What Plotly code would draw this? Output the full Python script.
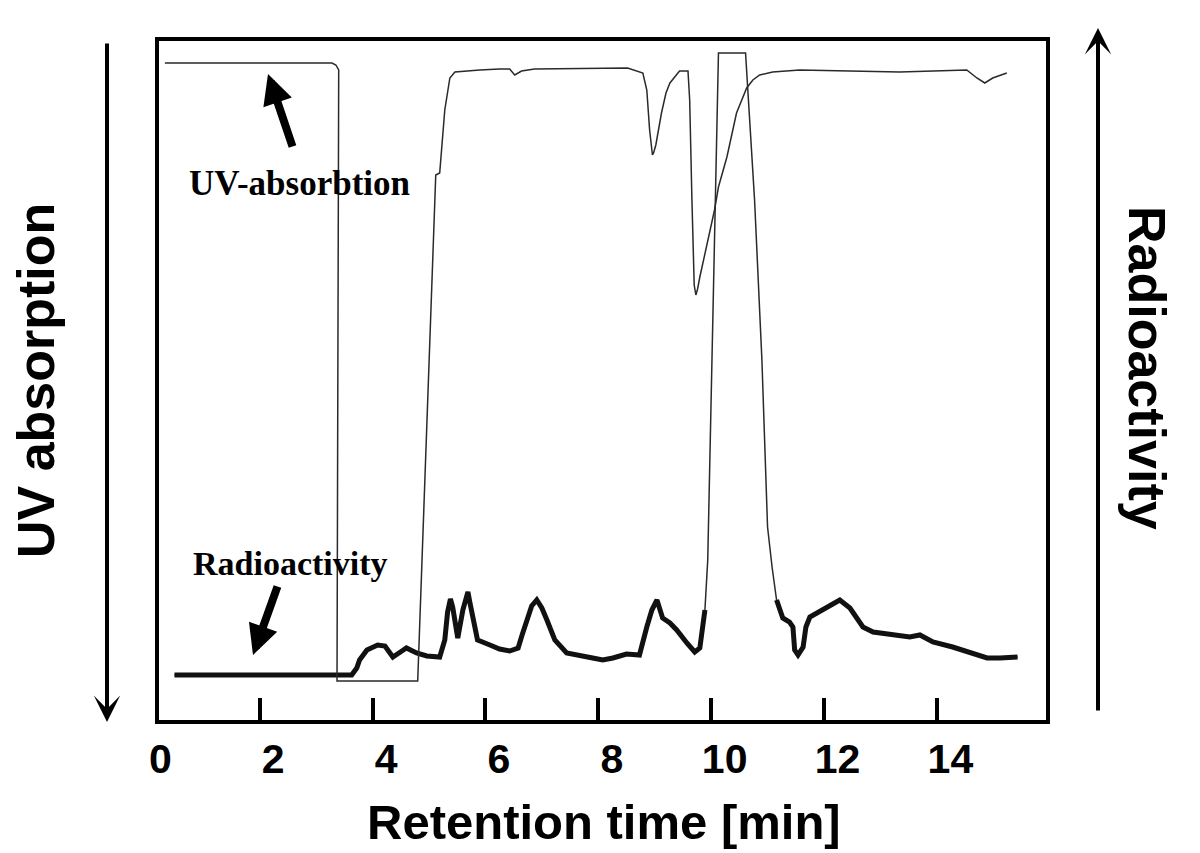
import plotly.graph_objects as go

# ---------------- data ----------------
# UV absorption trace (axis reversed: larger absorption plotted downward), arbitrary units
uv_time = [0.32, 3.28, 3.35, 3.40, 3.37, 4.80, 5.12, 5.19, 5.28, 5.37, 5.46, 5.63, 5.90,
           6.25, 6.43, 6.52, 6.64, 6.87, 8.52, 8.79, 8.86, 8.91, 8.94, 8.96, 8.98, 9.02,
           9.12, 9.20, 9.27, 9.44, 9.59, 9.62, 9.66, 9.70, 9.73, 9.76, 9.80, 10.06, 10.13,
           10.28, 10.45, 10.63, 10.74, 10.86, 11.09, 11.57, 13.34, 14.53, 14.71, 14.85,
           14.99, 15.24]
uv_signal = [2.4, 2.4, 2.6, 3.1, 64.2, 64.2, 13.6, 13.4, 7.1, 3.9, 3.3, 3.2, 3.1,
             3.0, 3.0, 3.6, 3.2, 3.0, 2.9, 3.4, 5.1, 9.1, 11.1, 11.6, 11.4, 10.6,
             7.4, 5.4, 4.4, 3.2, 3.2, 6.1, 16.1, 24.6, 25.6, 25.0, 23.8, 17.1, 14.8,
             11.8, 7.4, 4.9, 4.1, 3.6, 3.3, 3.1, 3.3, 3.1, 3.9, 4.4,
             3.9, 3.4]

# Radioactivity trace, arbitrary units (peak at ~10.4 min saturates the detector)
rad_time = [0.49, 3.63, 3.72, 3.77, 3.90, 4.09, 4.22, 4.30, 4.36, 4.52, 4.60, 4.78, 4.96,
            5.19, 5.28, 5.33, 5.38, 5.42, 5.46, 5.51, 5.60, 5.65, 5.69, 5.73, 5.77, 5.86,
            6.08, 6.25, 6.43, 6.58, 6.65, 6.73, 6.82, 6.91, 7.00, 7.09, 7.16, 7.23, 7.44,
            7.67, 7.90, 8.08, 8.26, 8.50, 8.73, 8.86, 8.95, 9.04, 9.09, 9.14, 9.27, 9.39,
            9.57, 9.71, 9.80, 9.89, 9.94, 10.13, 10.61, 10.77, 10.90, 10.95, 11.00, 11.08,
            11.16, 11.27, 11.39, 11.45, 11.48, 11.54, 11.63, 11.68, 11.75, 12.05, 12.28,
            12.46, 12.69, 12.87, 13.22, 13.52, 13.70, 13.93, 14.28, 14.64, 14.89, 15.12,
            15.43]
rad_signal = [4.7, 4.7, 5.4, 6.2, 7.2, 7.7, 7.6, 6.9, 6.5, 7.1, 7.4, 6.9, 6.6,
              6.5, 8.2, 11.0, 12.3, 11.5, 10.2, 8.4, 11.2, 12.4, 13.0, 11.8, 10.5, 8.2,
              7.7, 7.3, 7.1, 7.4, 8.7, 10.2, 11.6, 12.2, 11.4, 10.2, 9.2, 8.2, 6.9,
              6.7, 6.4, 6.2, 6.4, 6.8, 6.7, 9.5, 11.2, 12.2, 11.2, 10.4, 9.9, 9.2,
              7.9, 7.0, 7.4, 11.2, 16.2, 66.9, 66.9, 52.2, 36.2, 28.2, 19.5, 15.5,
              12.2, 10.4, 10.0, 9.5, 7.2, 6.7, 7.5, 9.5, 10.5, 11.4, 12.2,
              11.4, 9.5, 9.0, 8.7, 8.5, 8.7, 8.0, 7.5, 6.9, 6.4, 6.4,
              6.5]

tick_values = [2, 4, 6, 8, 10, 12, 14]
label_values = [0, 2, 4, 6, 8, 10, 12, 14]
label_texts = ["0", "2", "4", "6", "8", "10", "12", "14"]

x_title = "Retention time [min]"
left_title = "UV absorption"
right_title = "Radioactivity"
uv_label = "UV-absorbtion"
rad_label = "Radioactivity"

# ---------------- figure ----------------
X_RANGE = [0.18, 15.97]
LABEL_SHIFT = 0.24
BODY = 8                                   # page body margin of the html file
FIG_W, FIG_H = 1200 - BODY, 853 - BODY
PW, PH, L0, T0 = 891, 683, 157, 39          # plot area in screenshot pixels


def px(xp):
    return (xp - L0) / PW


def py(yp):
    return (T0 + PH - yp) / PH


rad_thick = [None if v > 14 else v for v in rad_signal]

fig = go.Figure()

fig.add_trace(go.Scatter(x=uv_time, y=uv_signal, mode="lines", yaxis="y2",
                         line=dict(color="#2a2a2a", width=1.5), hoverinfo="skip",
                         showlegend=False))
fig.add_trace(go.Scatter(x=rad_time, y=rad_signal, mode="lines",
                         line=dict(color="#2a2a2a", width=1.5), showlegend=False))
fig.add_trace(go.Scatter(x=rad_time, y=rad_thick, mode="lines", connectgaps=False,
                         line=dict(color="#111111", width=5), showlegend=False))
fig.add_trace(go.Scatter(x=[label_values[0]], y=[None], xaxis="x2", showlegend=False,
                         hoverinfo="skip"))

font_sans = "Liberation Sans, Arial, sans-serif"
font_serif = "Liberation Serif, Times New Roman, serif"

fig.update_layout(
    width=FIG_W, height=FIG_H,
    margin=dict(l=L0 - BODY, r=FIG_W - (L0 - BODY) - PW,
                t=T0 - BODY, b=FIG_H - (T0 - BODY) - PH),
    paper_bgcolor="white", plot_bgcolor="white",
    xaxis=dict(range=X_RANGE, tickvals=tick_values, showticklabels=False,
               ticks="inside", ticklen=24, tickwidth=4, tickcolor="black",
               showgrid=False, zeroline=False, showline=False),
    xaxis2=dict(range=[X_RANGE[0] - LABEL_SHIFT, X_RANGE[1] - LABEL_SHIFT],
                overlaying="x", anchor="y", side="bottom",
                tickvals=label_values, ticktext=label_texts, ticks="",
                ticklabelstandoff=9,
                tickfont=dict(family=font_sans, size=41, color="black", weight="bold"),
                showgrid=False, zeroline=False, showline=False),
    yaxis=dict(range=[0, 68.3], visible=False, showgrid=False, zeroline=False),
    yaxis2=dict(range=[68.3, 0], overlaying="y", visible=False, showgrid=False,
                zeroline=False),
    showlegend=False,
)

fig.add_shape(type="rect", xref="paper", yref="paper", x0=0, x1=1, y0=0, y1=1,
              line=dict(color="black", width=4), layer="above")

annotations = []


def text_ann(text, xp, yp, size, family, angle=0):
    return dict(text=text, xref="paper", yref="paper", x=px(xp), y=py(yp),
                textangle=angle, showarrow=False, xanchor="center", yanchor="middle",
                font=dict(family=family, size=size, color="black", weight="bold"))


def arrow_ann(head_xy, tail_xy, head, size, width):
    return dict(text="", xref="x domain", yref="y domain",
                axref="x domain", ayref="y domain",
                x=px(head_xy[0]), y=py(head_xy[1]),
                ax=px(tail_xy[0]), ay=py(tail_xy[1]),
                showarrow=True, arrowhead=head, arrowsize=size,
                arrowwidth=width, arrowcolor="black")


annotations.append(text_ann(x_title, 604, 822, 49, font_sans))
annotations.append(text_ann(left_title, 36, 381, 52, font_sans, -90))
annotations.append(text_ann(right_title, 1147, 368, 52, font_sans, 90))
annotations.append(arrow_ann((107, 722), (107, 42), 3, 1.1, 4))
annotations.append(arrow_ann((1098, 28), (1098, 712), 3, 1.1, 4))
annotations.append(text_ann(uv_label, 299, 183, 35, font_serif))
annotations.append(text_ann(rad_label, 290, 563, 34, font_serif))
annotations.append(arrow_ann((268, 74), (293, 148), 2, 0.75, 8))
annotations.append(arrow_ann((253, 655), (278, 585), 2, 0.75, 8))

fig.update_layout(annotations=annotations)

fig.write_html("out.html")
